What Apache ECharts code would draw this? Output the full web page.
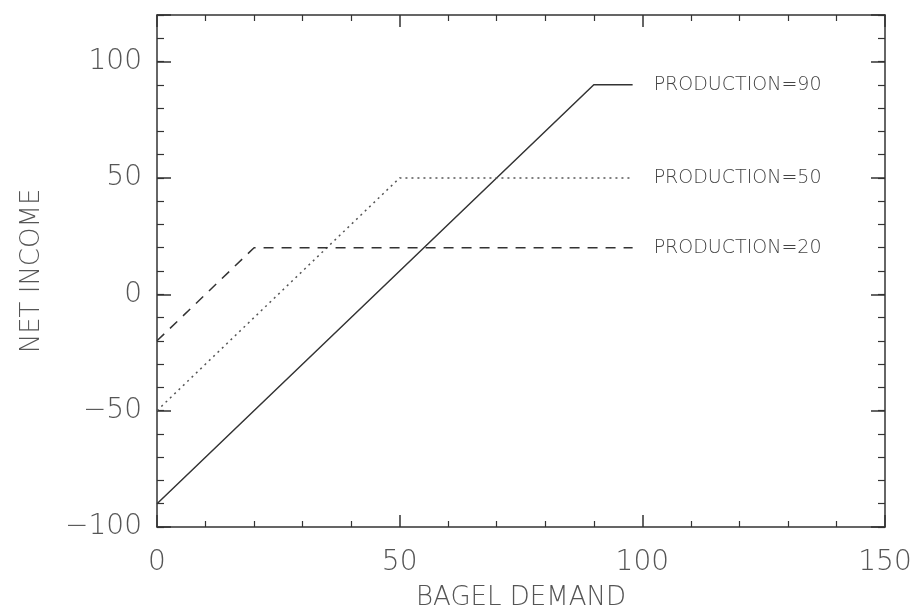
<!DOCTYPE html>
<html>
<head>
<meta charset="utf-8">
<script src="https://cdn.jsdelivr.net/npm/echarts@6/dist/echarts.min.js"></script>
<style>
  html, body { margin: 0; padding: 0; background: #fff; }
  #chart { width: 912px; height: 610px; }
</style>
</head>
<body>
<div id="chart"></div>
<script>
// bagel demand vs net income, one line per production level
const demand90 = [0, 90, 98]
const income90 = [-90, 90, 90]
const demand50 = [0, 50, 98]
const income50 = [-50, 50, 50]
const demand20 = [0, 20, 98]
const income20 = [-20, 20, 20]
const seriesNames = ['PRODUCTION=90', 'PRODUCTION=50', 'PRODUCTION=20']

const FONT = "'DejaVu Sans', sans-serif"
const AXIS_COLOR = '#333'
const TEXT_COLOR = '#555'

const pairs = (xs, ys) => xs.map((x, i) => [x, ys[i]])
const minus = (v) => (v < 0 ? '\u2212' + Math.abs(v) : String(v))

const chart = echarts.init(document.getElementById('chart'))

// shared axis look, never snapped to zero
const lineCfg = { show: true, onZero: false, lineStyle: { color: AXIS_COLOR, width: 1.5 } }

function xAxisCfg(position, showLabels) {
  return {
    type: 'value',
    position: position,
    min: 0,
    max: 150,
    interval: 50,
    axisLine: lineCfg,
    axisTick: { show: true, inside: true, length: 12, lineStyle: { color: AXIS_COLOR, width: 1.5 } },
    minorTick: { show: true, splitNumber: 5, length: 6, lineStyle: { color: AXIS_COLOR, width: 1.2 } },
    splitLine: { show: false },
    axisLabel: {
      show: showLabels,
      margin: 22,
      color: TEXT_COLOR,
      fontSize: 28,
      fontWeight: 200,
      fontFamily: FONT
    },
    name: showLabels ? 'BAGEL DEMAND' : '',
    nameLocation: 'middle',
    nameGap: 58,
    nameTextStyle: { color: TEXT_COLOR, fontSize: 26, fontWeight: 200, fontFamily: FONT }
  }
}

// minor axis: every 10, labels only on multiples of 50
function yMinorCfg(position, showLabels) {
  return {
    type: 'value',
    position: position,
    min: -100,
    max: 120,
    interval: 10,
    axisLine: lineCfg,
    axisTick: { show: true, inside: true, length: 7, lineStyle: { color: AXIS_COLOR, width: 1.2 } },
    splitLine: { show: false },
    axisLabel: {
      show: showLabels,
      margin: 15,
      color: TEXT_COLOR,
      fontSize: 28,
      fontWeight: 200,
      fontFamily: FONT,
      formatter: (v) => (v % 50 === 0 && v <= 100 ? minus(v) : '')
    },
    name: showLabels ? 'NET INCOME' : '',
    nameLocation: 'middle',
    nameGap: 112,
    nameTextStyle: { color: TEXT_COLOR, fontSize: 26, fontWeight: 200, fontFamily: FONT }
  }
}

// major axis: longer ticks every 50, nothing else
function yMajorCfg(position) {
  return {
    type: 'value',
    position: position,
    min: -100,
    max: 120,
    interval: 50,
    axisLine: { show: false, onZero: false },
    axisTick: { show: true, inside: true, length: 14, lineStyle: { color: AXIS_COLOR, width: 1.5 } },
    splitLine: { show: false },
    axisLabel: { show: false }
  }
}

function lineSeries(name, data, style) {
  return {
    name: name,
    type: 'line',
    xAxisIndex: 0,
    yAxisIndex: 0,
    data: data,
    showSymbol: false,
    silent: true,
    animation: false,
    lineStyle: Object.assign({ color: AXIS_COLOR, width: 1.5 }, style),
    endLabel: {
      show: true,
      formatter: name,
      distance: 21,
      color: '#444',
      fontSize: 19,
      fontWeight: 200,
      fontFamily: FONT
    }
  }
}

const option = {
  backgroundColor: '#fff',
  animation: false,
  // keep the plot box fixed even if the axis name reaches the bottom edge
  grid: { left: 157, right: 27, top: 15, bottom: 83, containLabel: false, outerBoundsMode: 'none' },
  xAxis: [xAxisCfg('bottom', true), xAxisCfg('top', false)],
  yAxis: [yMinorCfg('left', true), yMinorCfg('right', false), yMajorCfg('left'), yMajorCfg('right')],
  series: [
    lineSeries(seriesNames[0], pairs(demand90, income90), { type: 'solid' }),
    lineSeries(seriesNames[1], pairs(demand50, income50), { type: [2, 4], color: '#555' }),
    lineSeries(seriesNames[2], pairs(demand20, income20), { type: [10, 8] })
  ]
}

chart.setOption(option)
</script>
</body>
</html>
